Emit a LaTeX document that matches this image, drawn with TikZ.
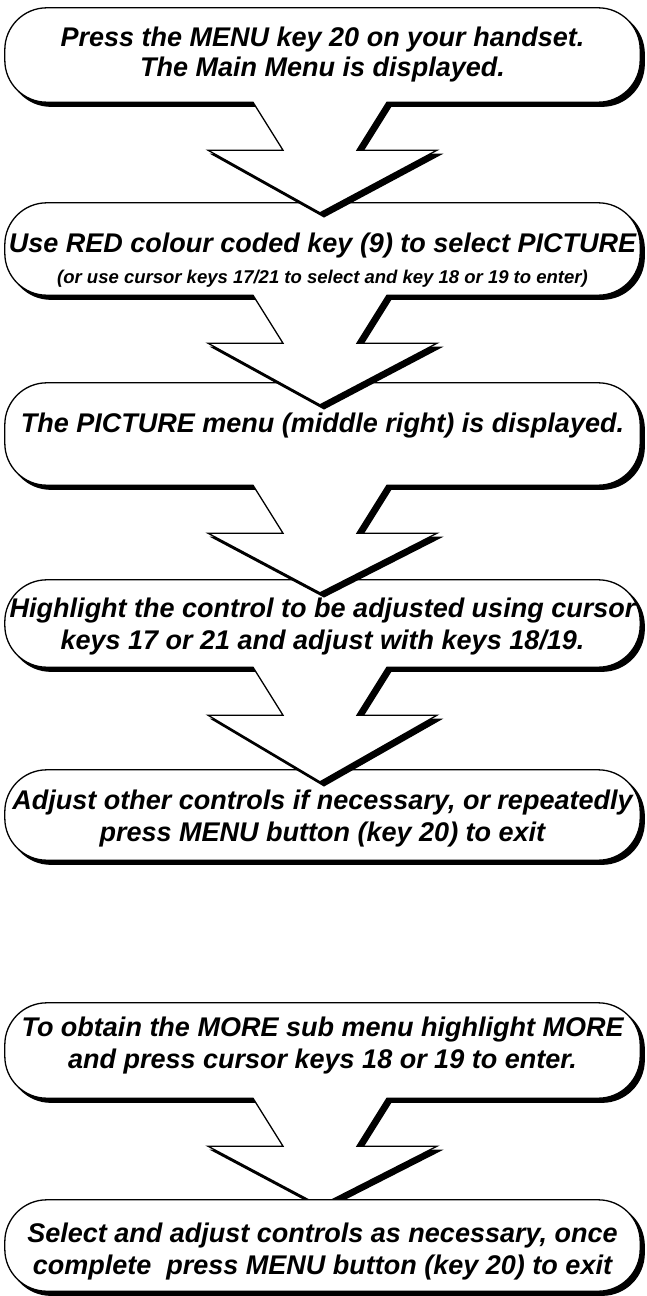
\documentclass[tikz,border=0pt]{standalone}
\usepackage{fontspec}
\setmainfont{Liberation Sans}
\usetikzlibrary{calc}
\pgfdeclarelayer{frames}
\pgfsetlayers{frames,main}

\tikzset{
  frame/.style={draw=none, inner sep=0pt, minimum width=635pt},
  steptext/.style={font=\fontsize{27}{32}\selectfont\bfseries\itshape, align=center, inner sep=0pt},
  shadowfill/.style={fill=black, draw=black, line width=1.3pt, transform canvas={shift={(4pt,-4pt)}}},
  outline/.style={fill=white, draw=black, line width=1.3pt, line join=miter},
}

% rounded step box without a pointer
\newcommand\plainbox[2]{%
  \path[#1] let \p1=(#2.north west), \p2=(#2.south east),
      \n1={min(42,(\y1-\y2)/2)} in
    (\x1+42,\y2) arc[start angle=270,end angle=180,x radius=42pt,y radius=\n1]
    -- (\x1,\y1-\n1) arc[start angle=180,end angle=90,x radius=42pt,y radius=\n1]
    -- (\x2-42,\y1) arc[start angle=90,end angle=0,x radius=42pt,y radius=\n1]
    -- (\x2,\y2+\n1) arc[start angle=0,end angle=-90,x radius=42pt,y radius=\n1]
    -- cycle;}

% rounded step box whose block arrow points into the next box;
% #4 = how far the tip reaches below the top of the next box
\newcommand\arrowbox[4]{%
  \path[#1] let \p1=(#2.north west), \p2=(#2.south east), \p3=(#3.north),
      \n1={min(42,(\y1-\y2)/2)}, \n2={\y3-#4}, \n3={\y2-48} in
    (\x3-69.5,\y2) -- (\x1+42,\y2)
    arc[start angle=270,end angle=180,x radius=42pt,y radius=\n1]
    -- (\x1,\y1-\n1) arc[start angle=180,end angle=90,x radius=42pt,y radius=\n1]
    -- (\x2-42,\y1) arc[start angle=90,end angle=0,x radius=42pt,y radius=\n1]
    -- (\x2,\y2+\n1) arc[start angle=0,end angle=-90,x radius=42pt,y radius=\n1]
    -- (\x3+64.5,\y2) -- (\x3+34.5,\n3) -- (\x3+114.5,\n3)
    -- (\x3-2.5,\n2) -- (\x3-114.5,\n3) -- (\x3-39.5,\n3) -- cycle;}

\begin{document}
\begin{tikzpicture}[x=1pt,y=1pt]
\useasboundingbox (0,0) rectangle (647,-1296);

% box outlines (geometry only)
\node[frame, minimum height=94pt]  (b1) at (322.5,-55)    {};
\node[frame, minimum height=92pt]  (b2) at (322.5,-249)   {};
\node[frame, minimum height=102pt] (b3) at (322.5,-434)   {};
\node[frame, minimum height=87pt]  (b4) at (322.5,-623.5) {};
\node[frame, minimum height=90pt]  (b5) at (322.5,-815)   {};
\node[frame, minimum height=95pt]  (b6) at (322.5,-1050.5){};
\node[frame, minimum height=91pt]  (b7) at (322.5,-1245.5){};

% step texts
\node[steptext, font=\fontsize{27}{30}\selectfont\bfseries\itshape] (t1) at (322.5,-54.6)
  {Press the MENU key 20 on your handset.\\The Main Menu is displayed.};
\node[steptext, font=\fontsize{27}{30}\selectfont\bfseries\itshape] (t2) at (322.5,-260)
  {Use RED colour coded key (9) to select PICTURE\\[1pt]
  {\fontsize{18.5}{22}\selectfont (or use cursor keys 17/21 to select and key 18 or 19 to enter)}};
\node[steptext] (t3) at (322.5,-425.6) {The PICTURE menu (middle right) is displayed.};
\node[steptext] (t4) at (322.5,-626.6) {Highlight the control to be adjusted using cursor\\keys 17 or 21 and adjust with keys 18/19.};
\node[steptext] (t5) at (322.5,-819) {Adjust other controls if necessary, or repeatedly\\press MENU button (key 20) to exit};
\node[steptext] (t6) at (322.5,-1046) {To obtain the MORE sub menu highlight MORE\\and press cursor keys 18 or 19 to enter.};
\node[steptext] (t7) at (322.5,-1251.6) {Select and adjust controls as necessary, once\\complete\ \ press MENU button (key 20) to exit};

% frames; each arrow is drawn over the top edge of the box it points to,
% except the last one, whose tip slips under the final box
\begin{pgfonlayer}{frames}
  \arrowbox{shadowfill}{b6}{b7}{6} \arrowbox{outline}{b6}{b7}{6}
  \plainbox{shadowfill}{b7}   \plainbox{outline}{b7}
  \plainbox{shadowfill}{b5}   \plainbox{outline}{b5}
  \arrowbox{shadowfill}{b4}{b5}{12} \arrowbox{outline}{b4}{b5}{12}
  \arrowbox{shadowfill}{b3}{b4}{13} \arrowbox{outline}{b3}{b4}{13}
  \arrowbox{shadowfill}{b2}{b3}{22} \arrowbox{outline}{b2}{b3}{22}
  \arrowbox{shadowfill}{b1}{b2}{10} \arrowbox{outline}{b1}{b2}{10}
\end{pgfonlayer}
\end{tikzpicture}
\end{document}
